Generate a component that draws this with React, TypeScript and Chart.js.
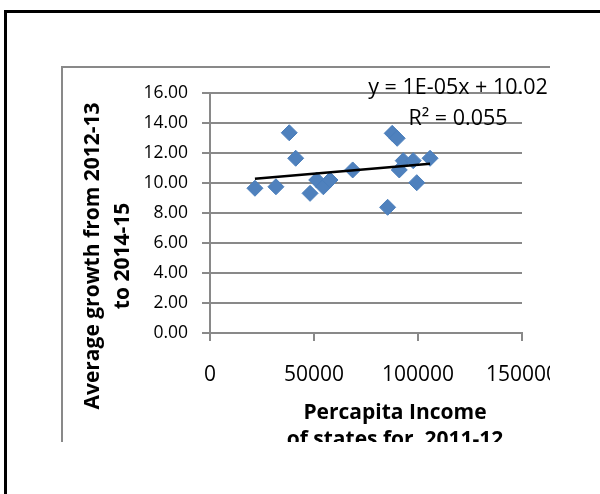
import React, { useEffect, useRef } from "react";
import { Chart, registerables } from "chart.js";

Chart.register(...registerables);

// Per-capita income of states, 2011-12 (x) vs. average growth 2012-13 to 2014-15 (y)
const incomes = [
  21600, 31700, 38100, 41200, 48100, 51300, 54500, 57700, 68600,
  85400, 87600, 90000, 91000, 92900, 97700, 99400, 105800,
];
const growth = [
  9.65, 9.75, 13.35, 11.65, 9.31, 10.2, 9.75, 10.2, 10.87,
  8.38, 13.31, 12.98, 10.87, 11.49, 11.49, 10.02, 11.65,
];

// Linear trendline coefficients
const trendSlope = 0.000012;
const trendIntercept = 10.02;
const equationText = "y = 1E-05x + 10.02";
const rSquaredText = "R\u00B2 = 0.055";

const xTicks = [0, 50000, 100000, 150000];
const yTicks = [0, 2, 4, 6, 8, 10, 12, 14, 16];

const xTitle = ["Percapita Income", "of states for  2011-12"];
const yTitle = ["Average growth from 2012-13", "to 2014-15"];

const GRAY = "#898989";
const FONT = "'Open Sans', 'Noto Sans', sans-serif";

const annotationPlugin = {
  id: "annotationText",
  afterDraw(chart: any) {
    const { ctx, chartArea } = chart;
    ctx.save();
    ctx.fillStyle = "#000";
    ctx.textAlign = "center";
    ctx.textBaseline = "alphabetic";

    // trendline equation
    ctx.font = `21.5px ${FONT}`;
    const eqX = chartArea.left + 248;
    ctx.fillText(equationText, eqX, chartArea.top + 1);
    ctx.fillText(rSquaredText, eqX, chartArea.top + 32);

    // x-axis title
    ctx.font = `bold 21px ${FONT}`;
    const xtX = chartArea.left + 185;
    xTitle.forEach((t, i) => ctx.fillText(t, xtX, chartArea.bottom + 86 + i * 27));

    // y-axis title (rotated)
    ctx.translate(0, chartArea.top + 163);
    ctx.rotate(-Math.PI / 2);
    yTitle.forEach((t, i) => ctx.fillText(t, 0, 36 + i * 30));
    ctx.restore();
  },
};

export default function App() {
  const canvasRef = useRef<HTMLCanvasElement>(null);

  useEffect(() => {
    if (!canvasRef.current) return;
    const points = incomes.map((x, i) => ({ x, y: growth[i] }));
    const xMin = Math.min(...incomes);
    const xMax = Math.max(...incomes);
    const trend = [xMin, xMax].map((x) => ({ x, y: trendSlope * x + trendIntercept }));

    const chart = new Chart(canvasRef.current, {
      type: "scatter",
      data: {
        datasets: [
          {
            label: "Linear trend",
            data: trend,
            showLine: true,
            borderColor: "#000",
            borderWidth: 2.5,
            pointRadius: 0,
            order: 0,
          },
          {
            label: "States",
            data: points,
            pointStyle: "rectRot",
            pointRadius: 8,
            pointBackgroundColor: "#4F81BD",
            pointBorderColor: "#4A7EBB",
            pointBorderWidth: 1,
            order: 1,
          },
        ],
      },
      options: {
        animation: false,
        responsive: false,
        layout: { padding: { top: 25, right: 78, left: 0, bottom: 0 } },
        plugins: { legend: { display: false }, tooltip: { enabled: false } },
        font: { family: FONT },
        scales: {
          x: {
            type: "linear",
            min: xTicks[0],
            max: xTicks[xTicks.length - 1],
            afterBuildTicks: (scale: any) => {
              scale.ticks = xTicks.map((v) => ({ value: v }));
            },
            afterFit: (scale: any) => {
              scale.height = 161;
            },
            ticks: {
              color: "#000",
              padding: 21,
              font: { family: FONT, size: 21 },
              callback: (v: any) => String(v),
            },
            grid: { drawOnChartArea: false, drawTicks: true, tickLength: 8, color: GRAY, lineWidth: 2 },
            border: { display: true, color: GRAY, width: 2 },
          },
          y: {
            type: "linear",
            min: yTicks[0],
            max: yTicks[yTicks.length - 1],
            afterBuildTicks: (scale: any) => {
              scale.ticks = yTicks.map((v) => ({ value: v }));
            },
            afterFit: (scale: any) => {
              scale.width = 147;
            },
            ticks: {
              color: "#000",
              padding: 14,
              font: { family: FONT, size: 17.5 },
              callback: (v: any) => Number(v).toFixed(2),
            },
            grid: { color: GRAY, lineWidth: 2, tickLength: 8 },
            border: { display: true, color: GRAY, width: 2 },
          },
        },
      },
      plugins: [annotationPlugin],
    });
    return () => chart.destroy();
  }, []);

  return (
    <div
      style={{
        position: "absolute",
        left: 0,
        top: 0,
        width: 600,
        height: 494,
        overflow: "hidden",
        background: "#fff",
      }}
    >
      <div
        style={{
          position: "absolute",
          left: 4,
          top: 10,
          width: 700,
          height: 600,
          borderLeft: "3px solid #000",
          borderTop: "3px solid #000",
        }}
      />
      <div
        style={{
          position: "absolute",
          left: 61,
          top: 66,
          width: 489,
          height: 376,
          boxSizing: "border-box",
          borderLeft: `2px solid ${GRAY}`,
          borderTop: `2px solid ${GRAY}`,
          overflow: "hidden",
        }}
      >
        <canvas
          ref={canvasRef}
          width={537}
          height={426}
          style={{ position: "absolute", left: 0, top: 0 }}
        />
      </div>
    </div>
  );
}
